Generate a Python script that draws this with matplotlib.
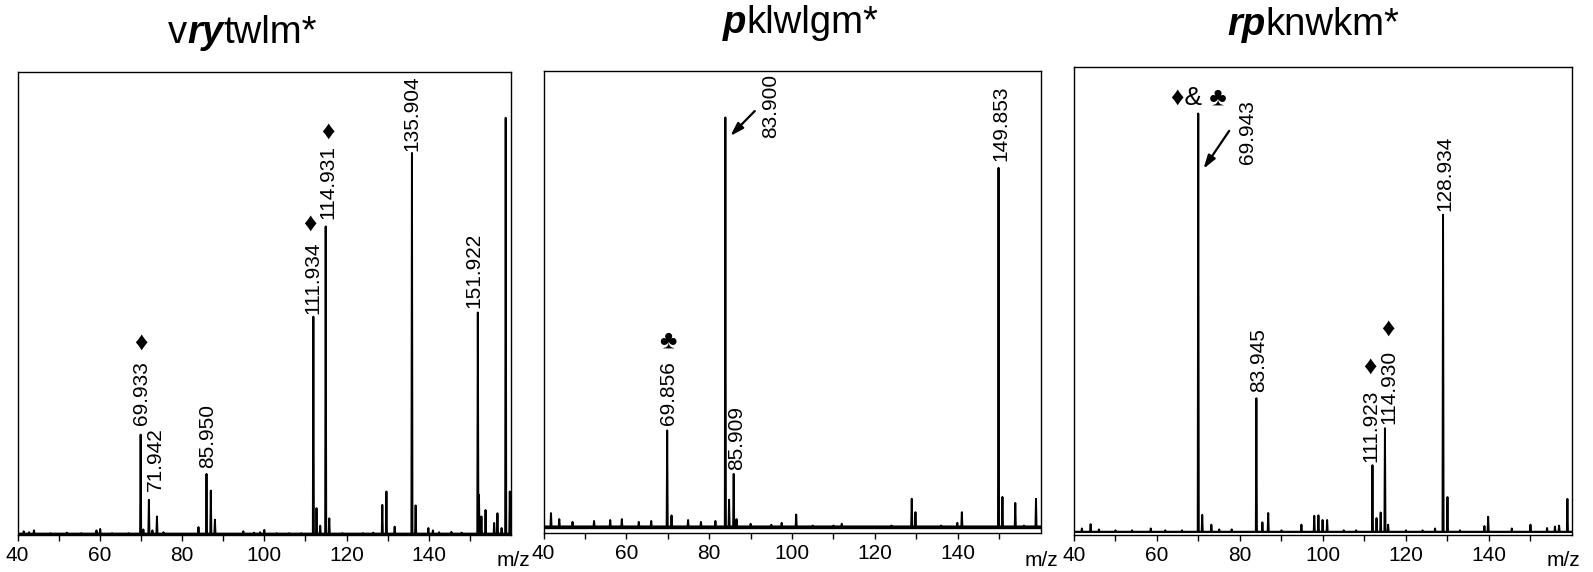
import matplotlib
matplotlib.use('Agg')
import matplotlib.pyplot as plt

plt.rcParams['font.family'] = ['Liberation Sans', 'DejaVu Sans']

# ---- data: m/z and relative intensity of the peaks ----
# vrytwlm*
mz1 = [41.5, 42.8, 44.0, 48.0, 52.0, 55.5, 59.2, 60.1, 63.0, 67.0,
       69.933, 70.6, 71.942, 72.8, 73.9, 75.5, 84.0, 85.950, 87.0, 88.0,
       94.9, 97.5, 99.0, 100.0, 103.0, 106.0, 109.0, 111.934, 112.7, 113.6,
       114.931, 115.8, 119.0, 124.0, 126.5, 128.7, 129.7, 131.7, 135.904, 136.8,
       139.9, 141.0, 142.5, 145.5, 148.0, 151.922, 152.2, 152.8, 153.8, 155.9,
       156.7, 157.7, 158.7, 159.7]
int1 = [0.008, 0.006, 0.010, 0.004, 0.005, 0.004, 0.010, 0.013, 0.004, 0.004,
        0.217, 0.012, 0.076, 0.010, 0.040, 0.006, 0.017, 0.132, 0.096, 0.033,
        0.008, 0.005, 0.006, 0.011, 0.004, 0.004, 0.004, 0.472, 0.058, 0.020,
        0.667, 0.036, 0.004, 0.004, 0.005, 0.065, 0.094, 0.018, 0.826, 0.064,
        0.015, 0.010, 0.006, 0.007, 0.005, 0.481, 0.087, 0.040, 0.054, 0.026,
        0.047, 0.015, 0.902, 0.094]

# pklwlgm*
mz2 = [41.8, 43.8, 47.0, 52.2, 56.1, 58.9, 63.0, 66.0, 69.856, 70.9,
       74.9, 78.0, 81.5, 83.900, 84.8, 85.909, 86.6, 90.0, 95.0, 97.5,
       101.0, 105.0, 110.0, 112.0, 118.0, 124.0, 128.9, 129.8, 136.0, 139.9,
       141.0, 145.0, 149.853, 150.8, 153.9, 156.0, 158.9]
int2 = [0.043, 0.030, 0.024, 0.026, 0.028, 0.030, 0.024, 0.026, 0.222, 0.038,
        0.028, 0.024, 0.026, 0.899, 0.072, 0.128, 0.030, 0.020, 0.018, 0.022,
        0.040, 0.016, 0.016, 0.020, 0.014, 0.016, 0.074, 0.045, 0.016, 0.022,
        0.045, 0.014, 0.790, 0.078, 0.065, 0.016, 0.074]

# rpknwkm*
mz3 = [41.9, 44.0, 46.0, 50.0, 54.0, 58.5, 62.0, 66.0, 69.943, 70.9,
       73.1, 75.0, 78.0, 83.945, 85.4, 86.8, 90.0, 94.8, 97.9, 98.9,
       99.9, 101.0, 105.0, 108.0, 111.923, 112.9, 113.9, 114.930, 115.7, 120.0,
       124.0, 127.0, 128.934, 130.0, 133.0, 138.9, 139.8, 145.5, 150.0, 154.0,
       155.9, 156.9, 158.9]
int3 = [0.014, 0.023, 0.012, 0.010, 0.010, 0.014, 0.010, 0.010, 0.900, 0.043,
        0.022, 0.012, 0.012, 0.292, 0.027, 0.047, 0.010, 0.022, 0.041, 0.042,
        0.032, 0.032, 0.010, 0.010, 0.149, 0.036, 0.048, 0.228, 0.022, 0.010,
        0.010, 0.014, 0.684, 0.081, 0.010, 0.019, 0.039, 0.014, 0.022, 0.015,
        0.018, 0.020, 0.077]

titles = [[('v', False), ('ry', True), ('twlm*', False)],
          [('p', True), ('klwlgm*', False)],
          [('rp', True), ('knwkm*', False)]]

# peak labels: (text, x, y)
labels1 = [('69.933', 70.2, 0.238), ('71.942', 73.6, 0.095), ('85.950', 86.2, 0.145),
           ('111.934', 111.9, 0.478), ('114.931', 115.5, 0.684),
           ('135.904', 136.0, 0.830), ('151.922', 151.0, 0.490)]
labels2 = [('69.856', 70.1, 0.233), ('85.909', 86.7, 0.137),
           ('83.900', 94.9, 0.854), ('149.853', 150.4, 0.805)]
labels3 = [('69.943', 81.9, 0.793), ('83.945', 84.4, 0.305),
           ('111.923', 111.5, 0.156), ('114.930', 115.9, 0.237),
           ('128.934', 129.4, 0.691)]

# symbol marks: (text, x, y)
marks1 = [('\u2666', 69.9, 0.416), ('\u2666', 111.1, 0.673), ('\u2666', 115.4, 0.872)]
marks2 = [('\u2663', 70.1, 0.417)]
marks3 = [('\u2666', 111.2, 0.359), ('\u2666', 115.7, 0.441), ('\u2666& \u2663', 70.0, 0.933)]

arrows2 = [((91.0, 0.913), (85.1, 0.859))]
arrows3 = [((77.4, 0.863), (71.2, 0.782))]

baselines = [0.003, 0.014, 0.007]


def profile(mz, inten, base, w=0.13):
    pk = sorted(zip(mz, inten))
    xs, ys = [40], [base]
    for m, h in pk:
        xs += [m - w, m, m + w]
        ys += [base, max(h, base), base]
    xs.append(160.5)
    ys.append(base)
    return xs, ys


fig = plt.figure(figsize=(15.93, 5.72), dpi=100)
rects = [[0.011, 0.0647, 0.3098, 0.8086],
         [0.3412, 0.0682, 0.3120, 0.8080],
         [0.6742, 0.0647, 0.3126, 0.8187]]
spectra = [(mz1, int1), (mz2, int2), (mz3, int3)]
all_labels = [labels1, labels2, labels3]
all_marks = [marks1, marks2, marks3]
all_arrows = [[], arrows2, arrows3]
title_pos = [(0.1055, 0.9248), (0.4539, 0.9423), (0.7703, 0.9388)]
mz_pos = [0.312, 0.6434, 0.9711]

for k in range(3):
    ax = fig.add_axes(rects[k])
    mz, inten = spectra[k]
    xs, ys = profile(mz, inten, baselines[k])
    lw_base = 2.4 if k == 1 else 1.4
    ax.plot([40, 160.5], [baselines[k], baselines[k]], color='black', lw=lw_base)
    ax.plot(xs, ys, color='black', lw=1.4)
    ax.set_xlim(40, 160)
    ax.set_ylim(0, 1)
    ax.set_yticks([])
    ax.set_xticks(range(40, 160, 10))
    ax.set_xticklabels([str(v) if v % 20 == 0 else '' for v in range(40, 160, 10)])
    ax.tick_params(axis='x', direction='out', length=4, width=1, pad=4, labelsize=15)
    for sp in ax.spines.values():
        sp.set_linewidth(1.0)

    for s, x, y in all_labels[k]:
        ax.text(x, y, s, rotation=90, ha='center', va='bottom', fontsize=15)
    for s, x, y in all_marks[k]:
        ax.text(x, y, s, ha='center', va='center', fontsize=19)
    for start, end in all_arrows[k]:
        ax.annotate('', xy=end, xytext=start,
                    arrowprops=dict(arrowstyle='-|>,head_length=0.8,head_width=0.25',
                                    color='black', lw=1.6, shrinkA=0, shrinkB=0))

    fig.text(mz_pos[k], 0.0105, 'm/z', fontsize=15, va='baseline')

    # title built from plain and bold-italic pieces
    tx, ty = title_pos[k]
    parts = titles[k]
    s, bi = parts[0]
    t = fig.text(tx, ty, s, fontsize=27.5, va='baseline',
                 fontweight='bold' if bi else 'normal',
                 fontstyle='italic' if bi else 'normal')
    for s, bi in parts[1:]:
        t = ax.annotate(s, xy=(1, 0), xycoords=t, va='bottom', ha='left',
                        fontsize=27.5, annotation_clip=False,
                        fontweight='bold' if bi else 'normal',
                        fontstyle='italic' if bi else 'normal')

fig.savefig('out.png', dpi=100)
